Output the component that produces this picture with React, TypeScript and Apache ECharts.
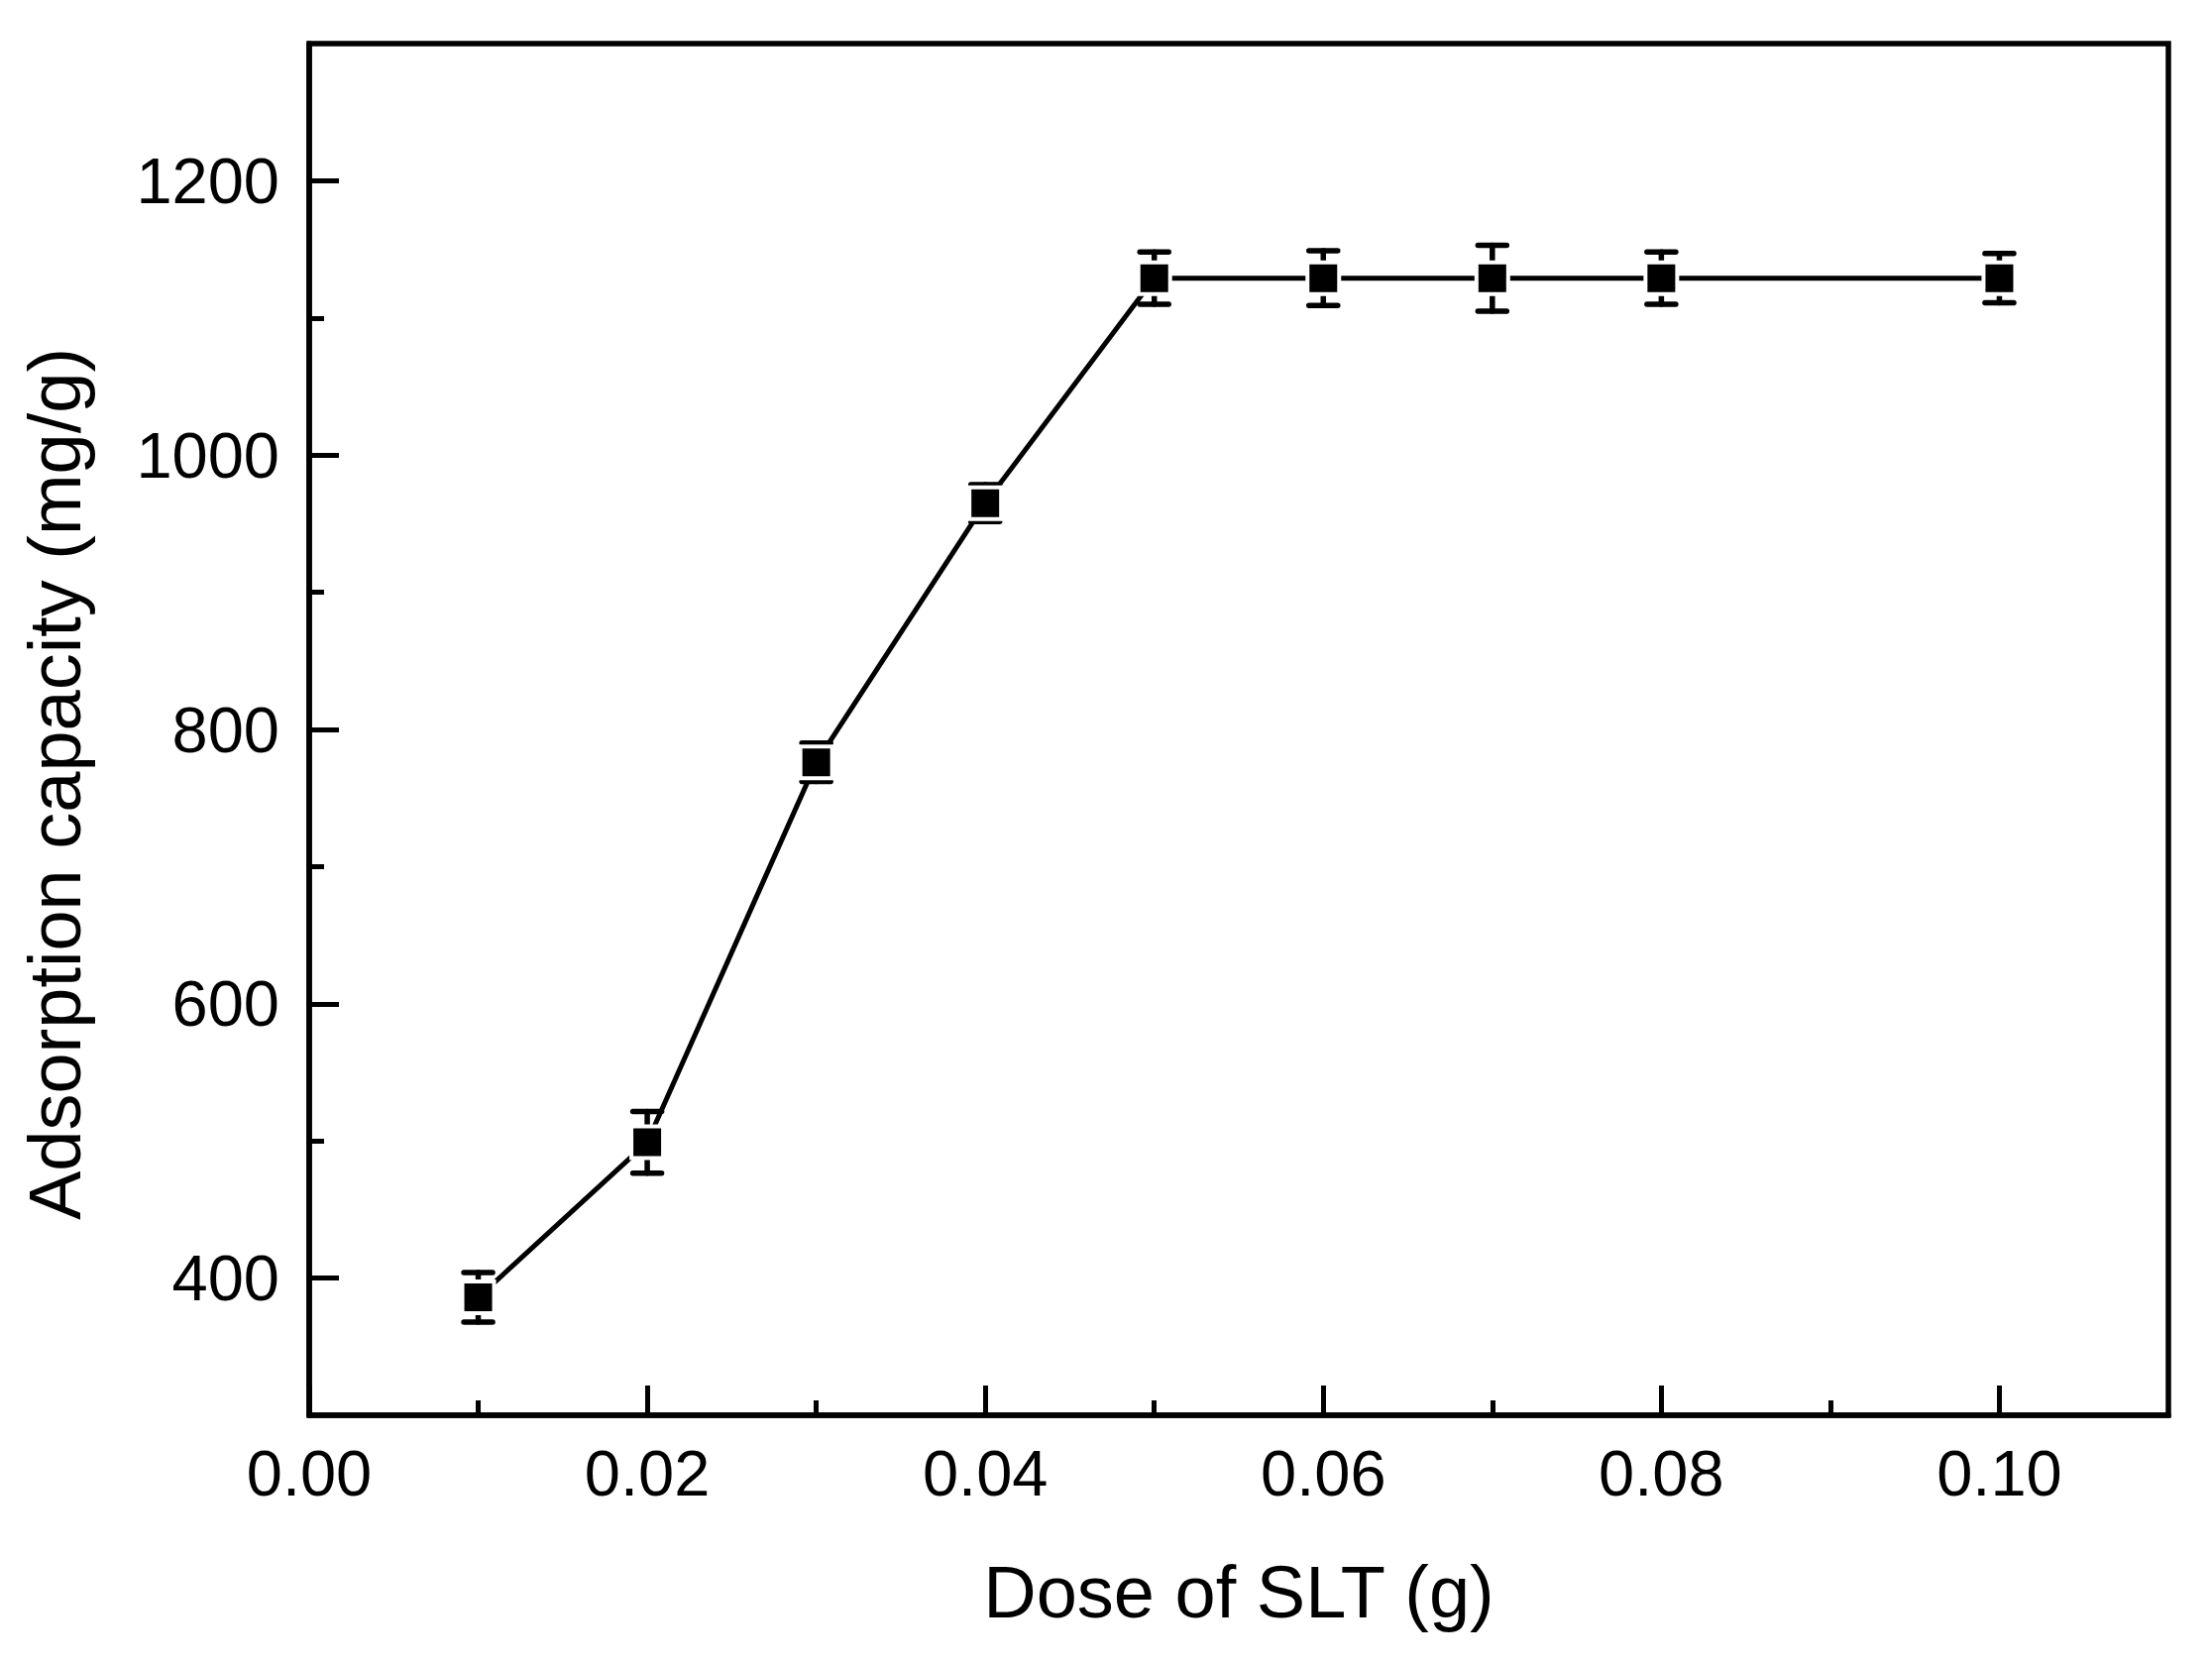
import React, { useEffect, useRef } from "react";
import * as echarts from "echarts";

const doses = [0.01, 0.02, 0.03, 0.04, 0.05, 0.06, 0.07, 0.08, 0.10];
const capacity = [386, 499, 776, 965, 1129, 1129, 1129, 1129, 1129];
const capacityErr = [18, 22.5, 14, 13.5, 19, 20, 24, 19, 18];

const xMajorTicks = [0, 0.02, 0.04, 0.06, 0.08, 0.10];
const xMinorTicks = [0.01, 0.03, 0.05, 0.07, 0.09];
const yMajorTicks = [400, 600, 800, 1000, 1200];
const yMinorTicks = [500, 700, 900, 1100];

const FONT = "'Liberation Sans', Arial, Helvetica, sans-serif";

export default function App() {
  const ref = useRef<HTMLDivElement>(null);

  useEffect(() => {
    if (!ref.current) return;
    const chart = echarts.init(ref.current, null, { renderer: "svg" });

    const points = doses.map((d, i) => [d, capacity[i]]);
    const errData = doses.map((d, i) => [d, capacity[i], capacityErr[i]]);

    const axisLineStyle = { color: "#000", width: 5.5 };

    const option: any = {
      animation: false,
      backgroundColor: "#fff",
      grid: {
        left: 312,
        right: 44,
        top: 44,
        bottom: 253,
        show: true,
        borderColor: "#000",
        borderWidth: 5.5,
        backgroundColor: "transparent",
      },
      xAxis: [
        {
          type: "value",
          min: 0,
          max: 0.11,
          position: "bottom",
          name: "Dose of SLT (g)",
          nameLocation: "middle",
          nameGap: 141,
          nameTextStyle: { fontFamily: FONT, fontSize: 74, color: "#000" },
          axisLine: { show: true, lineStyle: axisLineStyle },
          axisTick: {
            show: true,
            inside: true,
            length: 30,
            customValues: xMajorTicks,
            lineStyle: { color: "#000", width: 5 },
          },
          axisLabel: {
            show: true,
            margin: 26,
            customValues: xMajorTicks,
            formatter: (v: number) => v.toFixed(2),
            fontFamily: FONT,
            fontSize: 65,
            color: "#000",
          },
          splitLine: { show: false },
        },
        {
          type: "value",
          min: 0,
          max: 0.11,
          position: "bottom",
          axisLine: { show: false },
          axisTick: {
            show: true,
            inside: true,
            length: 15,
            customValues: xMinorTicks,
            lineStyle: { color: "#000", width: 5 },
          },
          axisLabel: { show: false },
          splitLine: { show: false },
        },
      ],
      yAxis: [
        {
          type: "value",
          min: 300,
          max: 1300,
          position: "left",
          name: "Adsorption capacity (mg/g)",
          nameLocation: "middle",
          nameGap: 220,
          nameTextStyle: {
            fontFamily: FONT,
            fontSize: 74,
            color: "#000",
            padding: [0, 110, 0, 0],
          },
          axisLine: { show: true, lineStyle: axisLineStyle },
          axisTick: {
            show: true,
            inside: true,
            length: 30,
            customValues: yMajorTicks,
            lineStyle: { color: "#000", width: 5 },
          },
          axisLabel: {
            show: true,
            margin: 30,
            customValues: yMajorTicks,
            formatter: (v: number) => String(v),
            fontFamily: FONT,
            fontSize: 65,
            color: "#000",
          },
          splitLine: { show: false },
        },
        {
          type: "value",
          min: 300,
          max: 1300,
          position: "left",
          axisLine: { show: false },
          axisTick: {
            show: true,
            inside: true,
            length: 15,
            customValues: yMinorTicks,
            lineStyle: { color: "#000", width: 5 },
          },
          axisLabel: { show: false },
          splitLine: { show: false },
        },
      ],
      series: [
        {
          type: "line",
          data: points,
          xAxisIndex: 0,
          yAxisIndex: 0,
          showSymbol: false,
          symbol: "none",
          lineStyle: { color: "#000", width: 5 },
          z: 2,
        },
        {
          type: "custom",
          xAxisIndex: 0,
          yAxisIndex: 0,
          data: errData,
          encode: { x: 0, y: 1 },
          z: 3,
          renderItem: (params: any, api: any) => {
            const x = api.value(0);
            const y = api.value(1);
            const e = api.value(2);
            const top = api.coord([x, y + e]);
            const bot = api.coord([x, y - e]);
            const half = 14.5;
            const style = { stroke: "#000", lineWidth: 5.5, lineCap: "round" };
            return {
              type: "group",
              children: [
                { type: "line", shape: { x1: top[0], y1: top[1], x2: bot[0], y2: bot[1] }, style },
                { type: "line", shape: { x1: top[0] - half, y1: top[1], x2: top[0] + half, y2: top[1] }, style },
                { type: "line", shape: { x1: bot[0] - half, y1: bot[1], x2: bot[0] + half, y2: bot[1] }, style },
              ],
            };
          },
        },
        {
          type: "scatter",
          data: points,
          xAxisIndex: 0,
          yAxisIndex: 0,
          symbol: "rect",
          symbolSize: 32,
          itemStyle: { color: "#000", borderColor: "#fff", borderWidth: 4, opacity: 1 },
          z: 4,
        },
      ],
    };

    chart.setOption(option);
    return () => chart.dispose();
  }, []);

  return (
    <div
      ref={ref}
      style={{ position: "fixed", left: 0, top: 0, width: "2232px", height: "1681px", background: "#fff" }}
    />
  );
}
